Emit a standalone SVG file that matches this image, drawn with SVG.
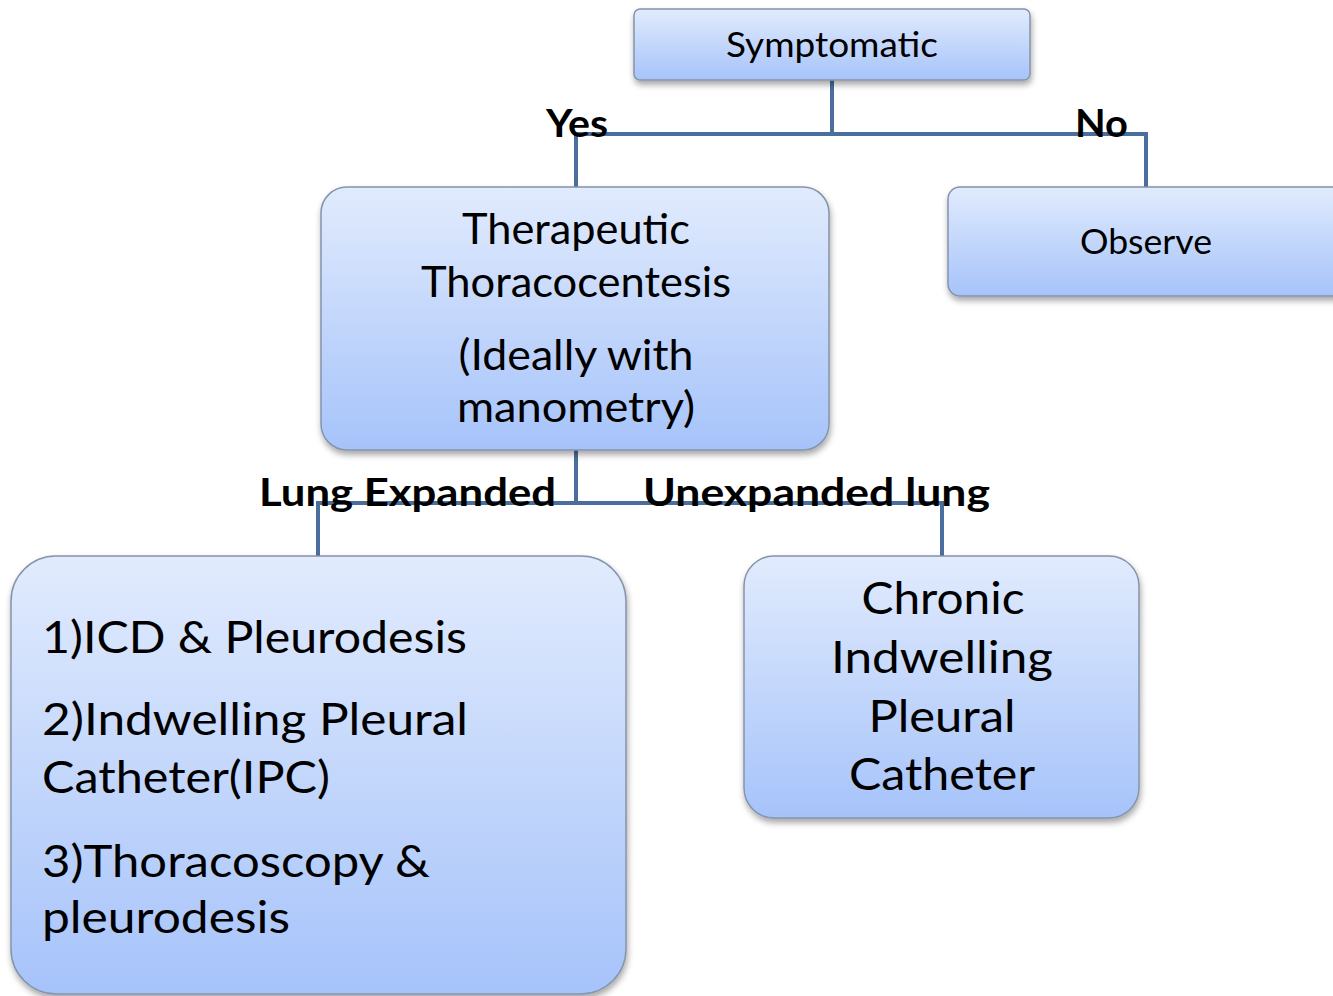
<svg xmlns="http://www.w3.org/2000/svg" width="1333" height="996" viewBox="0 0 1333 996">
<defs>
<linearGradient id="g" x1="0" y1="0" x2="0" y2="1">
<stop offset="0" stop-color="#e1ebfd"/>
<stop offset="1" stop-color="#a6c3fa"/>
</linearGradient>
<filter id="sh" x="-10%" y="-10%" width="120%" height="130%">
<feDropShadow dx="1" dy="4" stdDeviation="3" flood-color="#000" flood-opacity="0.35"/>
</filter>
</defs>
<style>
.box{fill:url(#g);stroke:#8494aa;stroke-width:1.5;filter:url(#sh)}
.t{font-family:Lato,"Liberation Sans",sans-serif;fill:#000}
.c{text-anchor:middle}
.b{font-weight:bold;font-size:39px}
.con{fill:none;stroke:#4a6e9e;stroke-width:4}
</style>
<rect width="1333" height="996" fill="#fff"/>
<g id="connectors">
<path class="con" d="M832 80V134M576 187V134H1146V187"/>
<path class="con" d="M576 450V503M318 556V503H942V556"/>
</g>
<g id="symptomatic">
<rect class="box" x="634" y="9" width="396" height="71" rx="6"/>
<text class="t c" x="832" y="57" font-size="35" textLength="212" lengthAdjust="spacingAndGlyphs">Symptomatic</text>
</g>
<g id="therapeutic">
<rect class="box" x="321" y="187" width="508" height="263" rx="26"/>
<text class="t c" font-size="42" x="576" y="244" textLength="228" lengthAdjust="spacingAndGlyphs">Therapeutic</text>
<text class="t c" font-size="42" x="576" y="297" textLength="310" lengthAdjust="spacingAndGlyphs">Thoracocentesis</text>
<text class="t c" font-size="42" x="576" y="370" textLength="235" lengthAdjust="spacingAndGlyphs">(Ideally with</text>
<text class="t c" font-size="42" x="576" y="422" textLength="238" lengthAdjust="spacingAndGlyphs">manometry)</text>
</g>
<g id="observe">
<rect class="box" x="948" y="187" width="400" height="109" rx="12"/>
<text class="t c" x="1146" y="254" font-size="35" textLength="132" lengthAdjust="spacingAndGlyphs">Observe</text>
</g>
<g id="lung-expanded-options">
<rect class="box" x="11" y="556" width="615" height="438" rx="45"/>
<text class="t" font-size="44" x="42" y="653" textLength="425" lengthAdjust="spacingAndGlyphs">1)ICD &amp; Pleurodesis</text>
<text class="t" font-size="44" x="42" y="735" textLength="426" lengthAdjust="spacingAndGlyphs">2)Indwelling Pleural</text>
<text class="t" font-size="44" x="42" y="793" textLength="288" lengthAdjust="spacingAndGlyphs">Catheter(IPC)</text>
<text class="t" font-size="44" x="42" y="877" textLength="388" lengthAdjust="spacingAndGlyphs">3)Thoracoscopy &amp;</text>
<text class="t" font-size="44" x="42" y="933" textLength="248" lengthAdjust="spacingAndGlyphs">pleurodesis</text>
</g>
<g id="chronic-ipc">
<rect class="box" x="744" y="556" width="395" height="262" rx="30"/>
<text class="t c" font-size="44" x="943" y="614" textLength="163" lengthAdjust="spacingAndGlyphs">Chronic</text>
<text class="t c" font-size="44" x="942" y="673" textLength="222" lengthAdjust="spacingAndGlyphs">Indwelling</text>
<text class="t c" font-size="44" x="942" y="732" textLength="147" lengthAdjust="spacingAndGlyphs">Pleural</text>
<text class="t c" font-size="44" x="942" y="790" textLength="186" lengthAdjust="spacingAndGlyphs">Catheter</text>
</g>
<g id="labels">
<text class="t b" x="546" y="137" textLength="62" lengthAdjust="spacingAndGlyphs">Yes</text>
<text class="t b" x="1075" y="137" textLength="53" lengthAdjust="spacingAndGlyphs">No</text>
<text class="t b" x="259" y="506" textLength="297" lengthAdjust="spacingAndGlyphs">Lung Expanded</text>
<text class="t b" x="643" y="506" textLength="347" lengthAdjust="spacingAndGlyphs">Unexpanded lung</text>
</g>
</svg>
